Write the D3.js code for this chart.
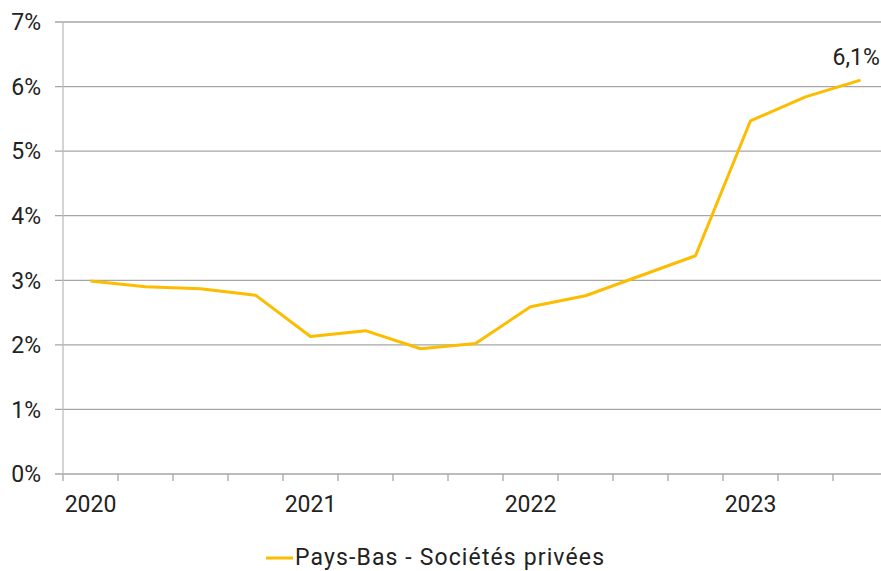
<!DOCTYPE html>
<html><head><meta charset="utf-8">
<script src="https://cdn.jsdelivr.net/npm/d3@7"></script>
<style>
html,body{margin:0;padding:0;background:#fff;overflow:hidden}
text{font-family:Roboto,"Noto Sans",sans-serif;fill:#222}
</style></head>
<body><svg id="c" width="881" height="571"></svg>
<script>
const quarters = ["2020T1","2020T2","2020T3","2020T4","2021T1","2021T2","2021T3","2021T4","2022T1","2022T2","2022T3","2022T4","2023T1","2023T2","2023T3"];
const values = [2.99,2.90,2.87,2.77,2.13,2.22,1.94,2.02,2.59,2.76,3.07,3.38,5.47,5.84,6.10];
const yTicks = [0,1,2,3,4,5,6,7];
const yearLabels = ["2020","2021","2022","2023"];
const yearQuarters = ["2020T1","2021T1","2022T1","2023T1"];
const seriesName = "Pays-Bas - Sociétés privées";
const lastLabel = "6,1%";

const svg = d3.select("#c");
const mLeft = 63, mTop = 22, mBottom = 474, band = 55;
const x = d3.scaleBand().domain(quarters).range([mLeft, mLeft + band*quarters.length]).padding(0);
const y = d3.scaleLinear().domain([0,7]).range([mBottom, mTop]);
const fs = 23;

// gridlines + y ticks
svg.append("g").selectAll("line").data(yTicks).join("line")
  .attr("x1", mLeft-8).attr("x2", 881).attr("y1", d=>y(d)).attr("y2", d=>y(d))
  .attr("stroke", "#a6a6a6").attr("stroke-width", 1.3);
svg.append("g").selectAll("text").data(yTicks).join("text")
  .attr("x", 41).attr("y", d=>y(d)).attr("dy","0.36em").attr("text-anchor","end")
  .attr("font-size", fs).text(d=>d+"%");

// y axis line
svg.append("line").attr("x1",mLeft).attr("x2",mLeft).attr("y1",y(7)).attr("y2",mBottom)
  .attr("stroke","#bdbdbd").attr("stroke-width",1.3);

// x ticks at band boundaries
svg.append("g").selectAll("line").data(quarters).join("line")
  .attr("x1", d=>x(d)).attr("x2", d=>x(d)).attr("y1", mBottom).attr("y2", mBottom+7)
  .attr("stroke","#a6a6a6").attr("stroke-width",1.3);
svg.append("g").selectAll("text").data(yearQuarters).join("text")
  .attr("x", d=>x(d)+x.bandwidth()/2).attr("y", 511.5).attr("text-anchor","middle")
  .attr("font-size", fs).text((d,i)=>yearLabels[i]);

// line
const line = d3.line().x((d,i)=>x(quarters[i])+x.bandwidth()/2).y(d=>y(d));
svg.append("path").datum(values).attr("d", line).attr("fill","none")
  .attr("stroke","#fcbc00").attr("stroke-width",3).attr("stroke-linejoin","round");

// last label
const li = values.length-1;
svg.append("text").attr("x", x(quarters[li])+x.bandwidth()/2-28).attr("y", 65)
  .attr("font-size", fs).text(lastLabel);

// legend
svg.append("line").attr("x1",266).attr("x2",293).attr("y1",558).attr("y2",558)
  .attr("stroke","#fcbc00").attr("stroke-width",3);
svg.append("text").attr("x",295).attr("y",564.5).attr("font-size",fs)
  .attr("textLength",309).attr("lengthAdjust","spacing").text(seriesName);
</script></body></html>
